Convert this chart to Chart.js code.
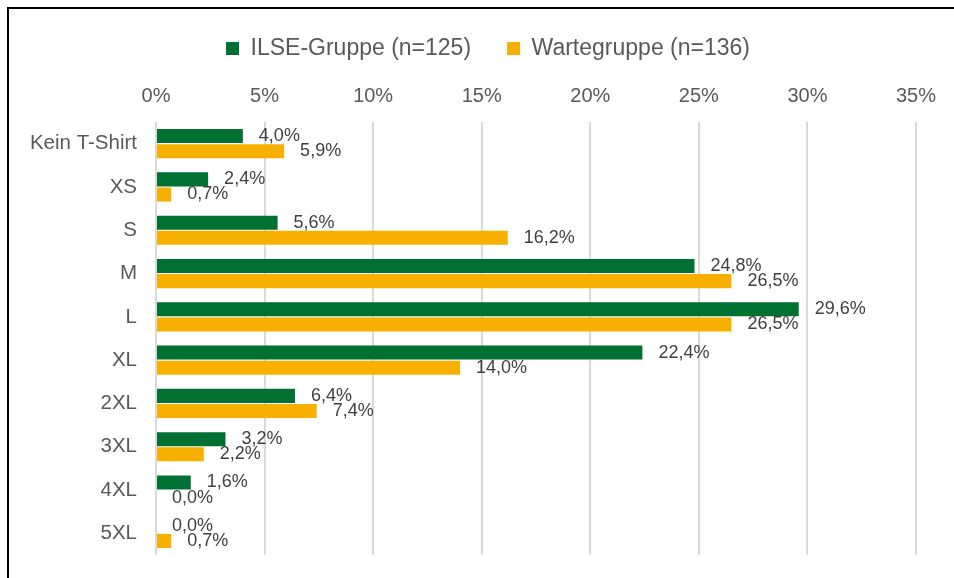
<!DOCTYPE html>
<html>
<head>
<meta charset="utf-8">
<script src="https://cdn.jsdelivr.net/npm/chart.js@4"></script>
<style>
  html, body { margin: 0; padding: 0; background: #fff; }
  #frame { position: absolute; left: 7px; top: 7px; width: 980px; height: 620px; border: 2px solid #000; }
  #wrap { position: absolute; left: 0; top: 0; width: 954px; height: 578px; }
</style>
</head>
<body>
<div id="frame"></div>
<div id="wrap"><canvas id="chart"></canvas></div>
<script>
// T-Shirt sizes, share in percent
const categories = ['Kein T-Shirt', 'XS', 'S', 'M', 'L', 'XL', '2XL', '3XL', '4XL', '5XL'];
const ilseValues = [4.0, 2.4, 5.6, 24.8, 29.6, 22.4, 6.4, 3.2, 1.6, 0.0];
const warteValues = [5.9, 0.7, 16.2, 26.5, 26.5, 14.0, 7.4, 2.2, 0.0, 0.7];
const xTicks = [0, 5, 10, 15, 20, 25, 30, 35];

const font = "'Liberation Sans', Arial, sans-serif";

function fmt(v) {
  return v.toFixed(1).replace('.', ',') + '%';
}

// draws the value next to each bar
const barLabels = {
  id: 'barLabels',
  afterDatasetsDraw(chart) {
    const ctx = chart.ctx;
    ctx.save();
    ctx.font = '18px ' + font;
    ctx.fillStyle = '#404040';
    ctx.textAlign = 'left';
    ctx.textBaseline = 'middle';
    chart.data.datasets.forEach((ds, i) => {
      chart.getDatasetMeta(i).data.forEach((bar, j) => {
        ctx.fillText(fmt(ds.data[j]), bar.x + 16, bar.y);
      });
    });
    ctx.restore();
  }
};

// legend sits a bit right of centre in the original
const shiftLegend = {
  id: 'shiftLegend',
  afterLayout(chart) {
    chart.legend.left += 30;
    chart.legend.right += 30;
  }
};

new Chart(document.getElementById('chart'), {
  type: 'bar',
  data: {
    labels: categories,
    datasets: [
      { label: 'ILSE-Gruppe (n=125)', data: ilseValues, backgroundColor: '#007033',
        barPercentage: 0.93, categoryPercentage: 0.7 },
      { label: 'Wartegruppe (n=136)', data: warteValues, backgroundColor: '#f8b000',
        barPercentage: 0.93, categoryPercentage: 0.7 }
    ]
  },
  options: {
    indexAxis: 'y',
    responsive: true,
    maintainAspectRatio: false,
    animation: false,
    layout: { padding: { top: 1, right: 38, bottom: 23, left: 0 } },
    plugins: {
      tooltip: { enabled: false },
      legend: {
        position: 'top',
        labels: {
          font: { family: font, size: 23 },
          color: '#595959',
          boxWidth: 13,
          boxHeight: 13,
          padding: 36
        }
      }
    },
    scales: {
      x: {
        position: 'top',
        min: 0,
        max: 35,
        afterBuildTicks(scale) { scale.ticks = xTicks.map(v => ({ value: v })); },
        afterFit(scale) { scale.height = 52; },
        ticks: {
          font: { family: font, size: 20 },
          color: '#595959',
          padding: 14,
          callback: v => v + '%'
        },
        grid: { color: '#d9d9d9', lineWidth: 2, drawTicks: false },
        border: { display: false }
      },
      y: {
        afterFit(scale) {
          scale.width = 156;
          scale.paddingTop = 0;
          scale.paddingBottom = 0;
        },
        ticks: {
          font: { family: font, size: 20.5 },
          color: '#595959',
          padding: 19
        },
        grid: { display: false, drawTicks: false },
        border: { display: false }
      }
    }
  },
  plugins: [barLabels, shiftLegend]
});
</script>
</body>
</html>
